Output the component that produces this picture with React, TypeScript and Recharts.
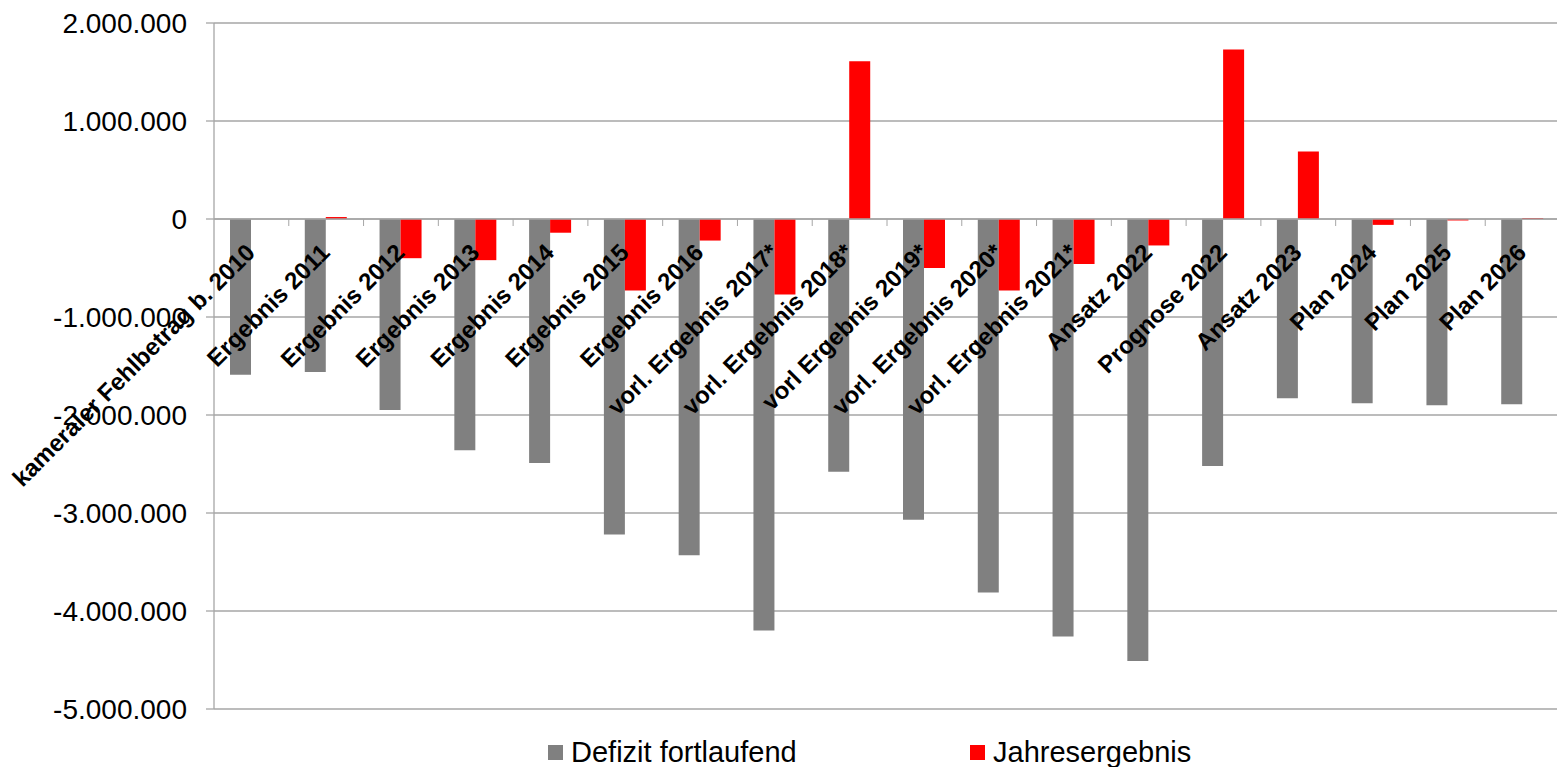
import React from "react";
import {
  BarChart,
  Bar,
  XAxis,
  YAxis,
  CartesianGrid,
  ReferenceLine,
  Legend,
} from "recharts";

const categories = [
  "kameraler Fehlbetrag b. 2010",
  "Ergebnis 2011",
  "Ergebnis 2012",
  "Ergebnis 2013",
  "Ergebnis 2014",
  "Ergebnis 2015",
  "Ergebnis 2016",
  "vorl. Ergebnis 2017*",
  "vorl. Ergebnis 2018*",
  "vorl Ergebnis 2019*",
  "vorl. Ergebnis 2020*",
  "vorl. Ergebnis 2021*",
  "Ansatz 2022",
  "Prognose 2022",
  "Ansatz 2023",
  "Plan 2024",
  "Plan 2025",
  "Plan 2026",
];

const defizitFortlaufend = [
  -1590000, -1560000, -1950000, -2360000, -2490000, -3220000, -3430000,
  -4200000, -2580000, -3070000, -3810000, -4260000, -4510000, -2520000,
  -1830000, -1880000, -1900000, -1890000,
];

const jahresergebnis = [
  0, 20000, -400000, -420000, -140000, -730000, -220000, -770000, 1610000,
  -500000, -730000, -460000, -270000, 1730000, 690000, -60000, -15000, 10000,
];

const yTicks = [2000000, 1000000, 0, -1000000, -2000000, -3000000, -4000000, -5000000];
const Y_MIN = -5000000;
const Y_MAX = 2000000;

const data = categories.map((name, i) => ({
  name,
  defizit: defizitFortlaufend[i],
  jahr: jahresergebnis[i],
}));

const W = 1557;
const H = 767;
const MARGIN = { top: 23, right: -3, left: 0, bottom: 28 };
const Y_AXIS_W = 214;
const X_AXIS_H = 30;
const PLOT_TOP = MARGIN.top;
const PLOT_H = H - MARGIN.top - MARGIN.bottom - X_AXIS_H;
const PLOT_W = W - MARGIN.left - MARGIN.right - Y_AXIS_W;
const BAND = PLOT_W / categories.length;
const ZERO_Y = PLOT_TOP + (PLOT_H * Y_MAX) / (Y_MAX - Y_MIN);

const FONT = "'Liberation Sans', Arial, sans-serif";
const GRID = "#A6A6A6";

function formatDe(v: number) {
  const s = Math.abs(v).toFixed(0).replace(/\B(?=(\d{3})+(?!\d))/g, ".");
  return (v < 0 ? "-" : "") + s;
}

function CategoryTick(props: any) {
  const { x, payload, index } = props;
  const ax = x + 5;
  const ay = ZERO_Y + 35;
  return (
    <g>
      {index > 0 && (
        <line
          x1={x - BAND / 2}
          x2={x - BAND / 2}
          y1={ZERO_Y}
          y2={ZERO_Y + 7}
          stroke={GRID}
          strokeWidth={1}
        />
      )}
      <text
        x={ax}
        y={ay}
        transform={`rotate(-45, ${ax}, ${ay})`}
        textAnchor="end"
        fontSize={24}
        fontWeight="bold"
        fill="#000"
        fontFamily={FONT}
      >
        {payload.value}
      </text>
    </g>
  );
}

function LegendContent() {
  const item = (color: string, label: string, left: number) => (
    <div
      style={{
        position: "absolute",
        left,
        top: 0,
        display: "flex",
        alignItems: "center",
        whiteSpace: "nowrap",
      }}
    >
      <span style={{ width: 15, height: 15, background: color, marginRight: 8, display: "inline-block" }} />
      <span style={{ fontSize: 29, fontFamily: FONT, color: "#000", lineHeight: "34px" }}>{label}</span>
    </div>
  );
  return (
    <div style={{ position: "relative", width: W, height: 34 }}>
      {item("#808080", "Defizit fortlaufend", 548)}
      {item("#FF0000", "Jahresergebnis", 970)}
    </div>
  );
}

export default function App() {
  return (
    <div style={{ position: "absolute", left: 0, top: 0, width: W, height: H, background: "#fff", overflow: "hidden" }}>
      <BarChart
        width={W}
        height={H}
        data={data}
        margin={MARGIN}
        barSize={21}
        barGap={0}
        style={{ fontFamily: FONT }}
      >
        <CartesianGrid horizontal vertical={false} stroke={GRID} strokeWidth={1.3} />
        <XAxis
          dataKey="name"
          height={X_AXIS_H}
          axisLine={false}
          tickLine={false}
          interval={0}
          tick={<CategoryTick />}
        />
        <YAxis
          width={Y_AXIS_W}
          domain={[Y_MIN, Y_MAX]}
          ticks={yTicks}
          interval={0}
          tickFormatter={formatDe}
          tick={{ fontSize: 28, fill: "#000", fontFamily: FONT }}
          tickSize={8}
          tickMargin={19}
          axisLine={{ stroke: GRID, strokeWidth: 1.3 }}
          tickLine={{ stroke: GRID, strokeWidth: 1.3 }}
        />
        <ReferenceLine y={0} stroke={GRID} strokeWidth={1.3} />
        <Legend
          layout="horizontal"
          verticalAlign="middle"
          align="center"
          wrapperStyle={{ top: 735, left: 0, width: W }}
          content={<LegendContent />}
        />
        <Bar dataKey="defizit" name="Defizit fortlaufend" fill="#808080" isAnimationActive={false} />
        <Bar dataKey="jahr" name="Jahresergebnis" fill="#FF0000" isAnimationActive={false} />
      </BarChart>
    </div>
  );
}
